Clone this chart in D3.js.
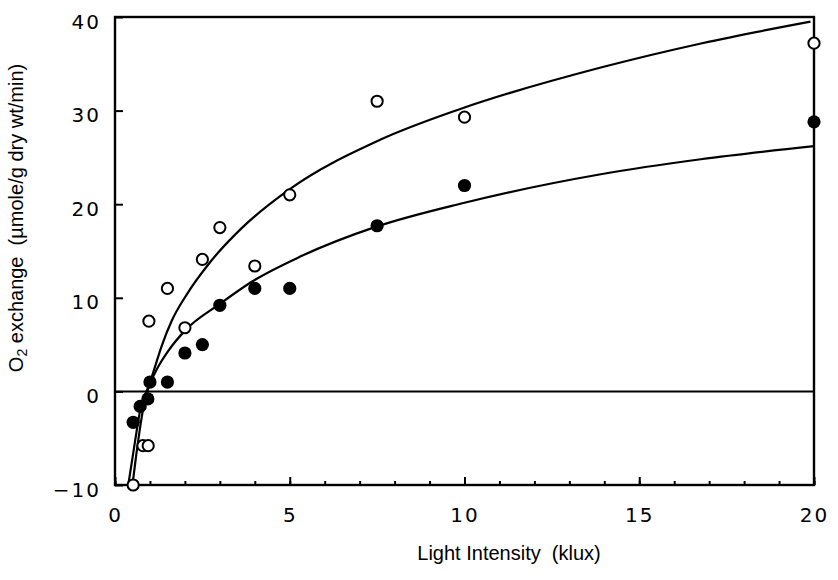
<!DOCTYPE html>
<html>
<head>
<meta charset="utf-8">
<script src="https://cdn.jsdelivr.net/npm/d3@7"></script>
<style>
body { margin: 0; background: #fff; }
svg { display: block; }
</style>
</head>
<body>
<div id="chart"></div>
<script>
var openX = [0.52, 0.8, 0.95, 0.97, 1.5, 2, 2.5, 3, 4, 5, 7.5, 10, 20];
var openY = [-10, -5.8, -5.8, 7.5, 11, 6.8, 14.1, 17.5, 13.4, 21, 31, 29.3, 37.2];
var filledX = [0.52, 0.72, 0.94, 1, 1.5, 2, 2.5, 3, 4, 5, 7.5, 10, 20];
var filledY = [-3.3, -1.6, -0.8, 1, 1, 4.1, 5, 9.2, 11, 11, 17.7, 22, 28.8];

// courbes ajustees (relevees point par point)
var upperCurveX = [0.5, 0.64, 0.8, 0.93, 1.15, 1.34, 1.63, 2.06, 2.72, 3.67, 4.96, 7.6, 9.9, 13.9, 16.8, 19.9];
var upperCurveY = [-10, -5.9, -2.0, 0, 2.7, 4.9, 7.6, 10.4, 13.8, 17.6, 21.5, 26.9, 30.2, 34.6, 37.2, 39.5];
var lowerCurveX = [0.38, 0.55, 0.75, 0.9, 1.2, 1.5, 2.03, 2.98, 3.95, 5.3, 7.48, 9.94, 13.9, 16.76, 20];
var lowerCurveY = [-10, -5.9, -1.5, 0, 2.4, 4.2, 6.6, 9.3, 11.8, 14.4, 17.6, 20.1, 23.2, 24.8, 26.2];

var xMajor = [0, 5, 10, 15, 20];
var yTicks = [-10, 0, 10, 20, 30, 40];

var largeur = 838, hauteur = 580;
var gauche = 115, droite = 814, haut = 17, bas = 485;

var svg = d3.select("#chart").append("svg").attr("width", largeur).attr("height", hauteur);

var x = d3.scaleLinear().domain([0, 20]).range([gauche, droite]);
var y = d3.scaleLinear().domain([-10, 40]).range([bas, haut]);

svg.append("defs").append("clipPath").attr("id", "zone")
    .append("rect").attr("x", gauche).attr("y", haut).attr("width", droite - gauche).attr("height", bas - haut);

// axe x : petites graduations
svg.append("g")
    .attr("transform", "translate(0," + bas + ")")
    .call(d3.axisBottom(x).tickValues(d3.range(0, 21, 1)).tickSize(-4).tickFormat(""))
    .call(function(g) { g.select(".domain").remove(); });

var axeX = svg.append("g")
    .attr("transform", "translate(0," + bas + ")")
    .call(d3.axisBottom(x).tickValues(xMajor).tickSize(-8).tickPadding(23).tickFormat(d3.format("d")));
axeX.select(".domain").remove();

var axeY = svg.append("g")
    .attr("transform", "translate(" + gauche + ",0)")
    .call(d3.axisLeft(y).tickValues(yTicks).tickSize(-8).tickPadding(14).tickFormat(d3.format("d")));
axeY.select(".domain").remove();

svg.selectAll(".tick line").attr("stroke", "#000").attr("stroke-width", 2);
svg.selectAll(".tick text")
    .attr("font-family", "DejaVu Sans")
    .attr("font-size", 20)
    .attr("letter-spacing", 2)
    .attr("fill", "#000");
axeY.selectAll(".tick text").attr("dy", "0.55em");

// cadre
svg.append("rect")
    .attr("x", gauche).attr("y", haut)
    .attr("width", droite - gauche).attr("height", bas - haut)
    .attr("fill", "none").attr("stroke", "#000").attr("stroke-width", 2.4);

// ligne du zero
svg.append("line")
    .attr("x1", x(0)).attr("x2", x(20))
    .attr("y1", y(0)).attr("y2", y(0))
    .attr("stroke", "#000").attr("stroke-width", 2);

var ligne = d3.line()
    .x(function(d) { return x(d[0]); })
    .y(function(d) { return y(d[1]); })
    .curve(d3.curveMonotoneX);

var courbes = [d3.zip(upperCurveX, upperCurveY), d3.zip(lowerCurveX, lowerCurveY)];
svg.append("g").attr("clip-path", "url(#zone)")
    .selectAll("path").data(courbes).enter().append("path")
    .attr("d", ligne)
    .attr("fill", "none").attr("stroke", "#000").attr("stroke-width", 2.2);

svg.append("g").selectAll("circle").data(d3.zip(filledX, filledY)).enter().append("circle")
    .attr("cx", function(d) { return x(d[0]); })
    .attr("cy", function(d) { return y(d[1]); })
    .attr("r", 6.6)
    .attr("fill", "#000");

svg.append("g").selectAll("circle").data(d3.zip(openX, openY)).enter().append("circle")
    .attr("cx", function(d) { return x(d[0]); })
    .attr("cy", function(d) { return y(d[1]); })
    .attr("r", 5.6)
    .attr("fill", "#fff").attr("stroke", "#000").attr("stroke-width", 2);

// titres des axes
svg.append("text")
    .attr("x", 509).attr("y", 560)
    .attr("text-anchor", "middle")
    .attr("font-family", "Liberation Sans")
    .attr("font-size", 20)
    .style("white-space", "pre")
    .text("Light Intensity  (klux)");

var titreY = svg.append("text")
    .attr("transform", "translate(23,218) rotate(-90)")
    .attr("text-anchor", "middle")
    .attr("font-family", "Liberation Sans")
    .attr("font-size", 20)
    .style("white-space", "pre");
titreY.append("tspan").text("O");
titreY.append("tspan").attr("font-size", 14).attr("dy", 4).text("2");
titreY.append("tspan").attr("dy", -4).text(" exchange  (\u00b5mole/g dry wt/min)");
</script>
</body>
</html>
